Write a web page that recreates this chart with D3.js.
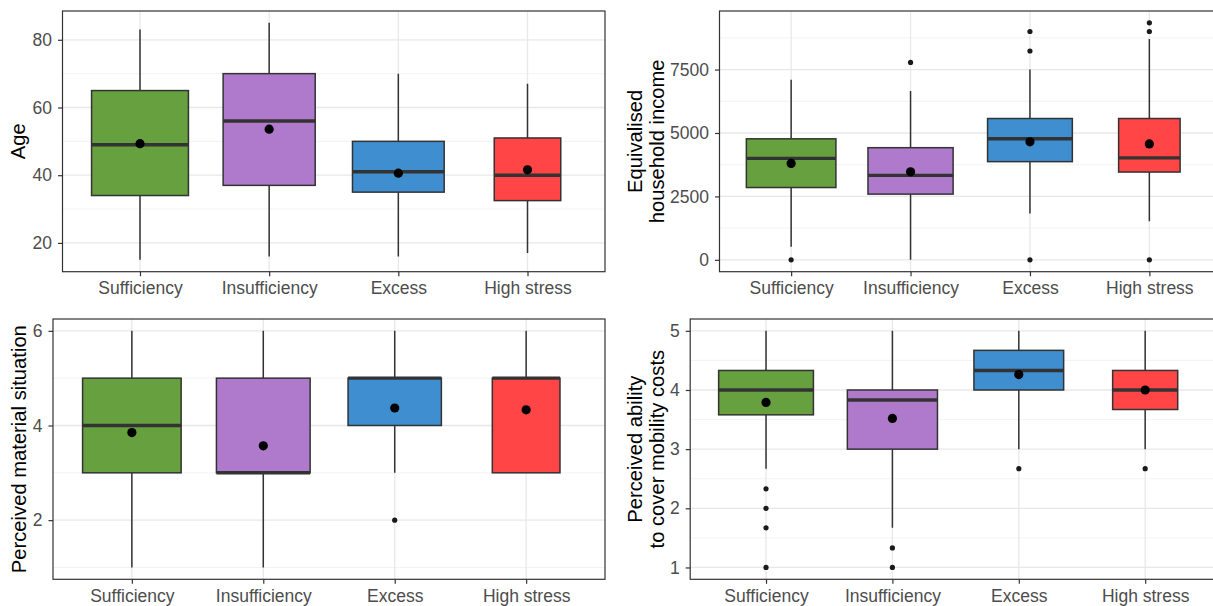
<!DOCTYPE html>
<html>
<head>
<meta charset="utf-8">
<script src="https://cdn.jsdelivr.net/npm/d3@7"></script>
<style>
  html, body { margin: 0; padding: 0; background: #fff; overflow: hidden; }
  svg { display: block; }
  text { font-family: "Liberation Sans", Arial, sans-serif; }
</style>
</head>
<body>
<svg id="chart" width="1213" height="606"></svg>
<script>
// Groups and their relative box widths (boxes scaled by group size)
const categories = ["Sufficiency", "Insufficiency", "Excess", "High stress"];
const boxWidthShare = [0.75, 0.713, 0.71, 0.515];
const fills = ["#66A03F", "#AF7ACC", "#3F8ED0", "#FF4545"];

// Age
const ageLow = [15, 16, 16, 17];
const ageQ1 = [34, 37, 35, 32.5];
const ageMedian = [49, 56, 41, 40];
const ageQ3 = [65, 70, 50, 51];
const ageHigh = [83, 85, 70, 67];
const ageMean = [49.3, 53.6, 40.6, 41.6];
const ageOutliers = [[], [], [], []];
const ageTicks = [20, 40, 60, 80];

// Equivalised household income
const incomeLow = [520, 0, 1830, 1520];
const incomeQ1 = [2850, 2590, 3870, 3460];
const incomeMedian = [4000, 3330, 4770, 4020];
const incomeQ3 = [4770, 4420, 5570, 5570];
const incomeHigh = [7100, 6650, 7500, 8700];
const incomeMean = [3800, 3470, 4650, 4570];
const incomeOutliers = [[0], [7780], [0, 8230, 9000], [0, 9000, 9340]];
const incomeTicks = [0, 2500, 5000, 7500];

// Perceived material situation
const materialLow = [1, 1, 3, 3];
const materialQ1 = [3, 3, 4, 3];
const materialMedian = [4, 3, 5, 5];
const materialQ3 = [5, 5, 5, 5];
const materialHigh = [6, 6, 6, 6];
const materialMean = [3.85, 3.57, 4.37, 4.33];
const materialOutliers = [[], [], [2], []];
const materialTicks = [2, 4, 6];

// Perceived ability to cover mobility costs
const mobilityLow = [2.67, 1.67, 3, 3];
const mobilityQ1 = [3.58, 3, 4, 3.67];
const mobilityMedian = [4, 3.83, 4.33, 4];
const mobilityQ3 = [4.33, 4, 4.67, 4.33];
const mobilityHigh = [5, 5, 5, 5];
const mobilityMean = [3.79, 3.52, 4.26, 4.0];
const mobilityOutliers = [[1, 1.67, 2, 2.33], [1, 1.33], [2.67], [2.67]];
const mobilityTicks = [1, 2, 3, 4, 5];

function buildStats(low, q1, med, q3, high, mean, out) {
  return categories.map((c, i) => ({
    cat: c, i, low: low[i], q1: q1[i], med: med[i], q3: q3[i],
    high: high[i], mean: mean[i], out: out[i]
  }));
}

const panels = [
  { stats: buildStats(ageLow, ageQ1, ageMedian, ageQ3, ageHigh, ageMean, ageOutliers),
    ticks: ageTicks, title: ["Age"],
    x0: 62.5, x1: 605, y0: 11, y1: 271.7, titleX: [25] },
  { stats: buildStats(incomeLow, incomeQ1, incomeMedian, incomeQ3, incomeHigh, incomeMean, incomeOutliers),
    ticks: incomeTicks, title: ["Equivalised", "household income"],
    x0: 719.5, x1: 1221, y0: 11, y1: 271.7, titleX: [641.5, 664] },
  { stats: buildStats(materialLow, materialQ1, materialMedian, materialQ3, materialHigh, materialMean, materialOutliers),
    ticks: materialTicks, title: ["Perceived material situation"],
    x0: 53, x1: 605, y0: 319, y1: 579.3, titleX: [26] },
  { stats: buildStats(mobilityLow, mobilityQ1, mobilityMedian, mobilityQ3, mobilityHigh, mobilityMean, mobilityOutliers),
    ticks: mobilityTicks, title: ["Perceived ability", "to cover mobility costs"],
    x0: 690.2, x1: 1221, y0: 319, y1: 579.3, titleX: [641.5, 664] }
];

const svg = d3.select("#chart");
const ink = "#333333";

panels.forEach((p, pi) => {
  // y domain: data range expanded by 5% on each side
  const all = p.stats.flatMap(s => [s.low, s.high, ...s.out]);
  const lo = d3.min(all), hi = d3.max(all), pad = (hi - lo) * 0.05;
  const y = d3.scaleLinear().domain([lo - pad, hi + pad]).range([p.y1, p.y0]);
  const x = d3.scalePoint().domain(categories).range([p.x0, p.x1]).padding(0.6);
  const step = x.step();

  const clipId = "clip" + pi;
  svg.append("clipPath").attr("id", clipId).append("rect")
    .attr("x", p.x0).attr("y", p.y0).attr("width", p.x1 - p.x0).attr("height", p.y1 - p.y0);

  const g = svg.append("g");
  const inner = g.append("g").attr("clip-path", `url(#${clipId})`);

  // minor grid: midpoints between major ticks, plus one step beyond each end
  const t = p.ticks, d = t[1] - t[0];
  const minors = [t[0] - d / 2, ...t.map(v => v + d / 2)]
    .filter(v => v >= y.domain()[0] && v <= y.domain()[1]);
  inner.selectAll(".minor").data(minors).join("line")
    .attr("x1", p.x0).attr("x2", p.x1)
    .attr("y1", v => y(v)).attr("y2", v => y(v))
    .attr("stroke", "#F0F0F0").attr("stroke-width", 0.8);
  inner.selectAll(".majorY").data(p.ticks).join("line")
    .attr("x1", p.x0).attr("x2", p.x1)
    .attr("y1", v => y(v)).attr("y2", v => y(v))
    .attr("stroke", "#E8E8E8").attr("stroke-width", 1.3);
  inner.selectAll(".majorX").data(categories).join("line")
    .attr("x1", c => x(c)).attr("x2", c => x(c))
    .attr("y1", p.y0).attr("y2", p.y1)
    .attr("stroke", "#E8E8E8").attr("stroke-width", 1.3);

  // boxplots
  const box = inner.selectAll(".box").data(p.stats).join("g");
  box.append("line")
    .attr("x1", s => x(s.cat)).attr("x2", s => x(s.cat))
    .attr("y1", s => y(s.high)).attr("y2", s => y(s.q3))
    .attr("stroke", ink).attr("stroke-width", 1.5);
  box.append("line")
    .attr("x1", s => x(s.cat)).attr("x2", s => x(s.cat))
    .attr("y1", s => y(s.q1)).attr("y2", s => y(s.low))
    .attr("stroke", ink).attr("stroke-width", 1.5);
  box.append("rect")
    .attr("x", s => x(s.cat) - boxWidthShare[s.i] * step / 2)
    .attr("width", s => boxWidthShare[s.i] * step)
    .attr("y", s => y(s.q3))
    .attr("height", s => y(s.q1) - y(s.q3))
    .attr("fill", s => fills[s.i])
    .attr("stroke", ink).attr("stroke-width", 1.5);
  box.append("line")
    .attr("x1", s => x(s.cat) - boxWidthShare[s.i] * step / 2)
    .attr("x2", s => x(s.cat) + boxWidthShare[s.i] * step / 2)
    .attr("y1", s => y(s.med)).attr("y2", s => y(s.med))
    .attr("stroke", ink).attr("stroke-width", 3.4);
  box.selectAll(".out").data(s => s.out.map(v => ({ cat: s.cat, v }))).join("circle")
    .attr("cx", o => x(o.cat)).attr("cy", o => y(o.v)).attr("r", 2.6)
    .attr("fill", "#1a1a1a");
  box.append("circle")
    .attr("cx", s => x(s.cat)).attr("cy", s => y(s.mean)).attr("r", 4.6)
    .attr("fill", "#000");

  // panel border
  g.append("rect")
    .attr("x", p.x0).attr("y", p.y0)
    .attr("width", p.x1 - p.x0).attr("height", p.y1 - p.y0)
    .attr("fill", "none").attr("stroke", ink).attr("stroke-width", 1.2);

  // axes
  const ya = g.append("g").attr("transform", `translate(${p.x0},0)`)
    .call(d3.axisLeft(y).tickValues(p.ticks).tickSize(4.5).tickPadding(6).tickFormat(d3.format("d")));
  const xa = g.append("g").attr("transform", `translate(0,${p.y1})`)
    .call(d3.axisBottom(x).tickSize(4.5).tickPadding(4));
  [ya, xa].forEach(a => {
    a.select(".domain").remove();
    a.selectAll(".tick line").attr("stroke", ink).attr("stroke-width", 1.2);
    a.selectAll(".tick text").attr("fill", "#4D4D4D")
      .style("font-size", "17.5px").style("font-family", "'Liberation Sans', Arial, sans-serif");
  });
  xa.selectAll(".tick text").attr("dy", "0.8em");

  // axis title (one or two lines, rotated)
  const cy = (p.y0 + p.y1) / 2;
  p.title.forEach((line, li) => {
    g.append("text")
      .attr("transform", `translate(${p.titleX[li]},${cy}) rotate(-90)`)
      .attr("text-anchor", "middle")
      .attr("fill", "#000")
      .style("font-size", "20.2px")
      .text(line);
  });
});
</script>
</body>
</html>
